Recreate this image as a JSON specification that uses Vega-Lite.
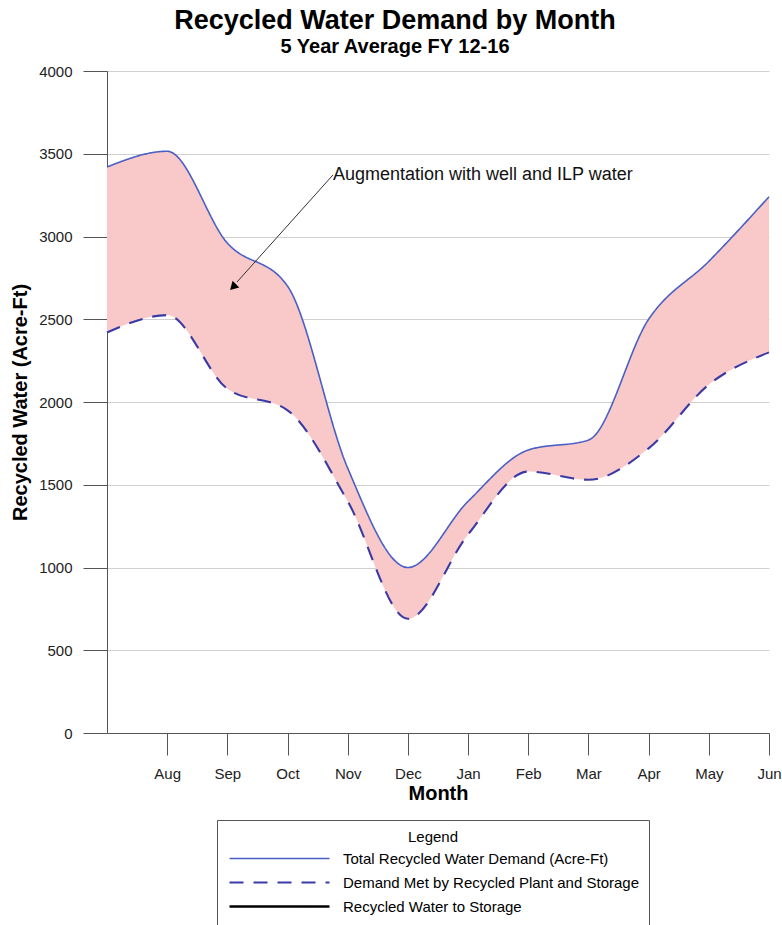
{
  "$schema": "https://vega.github.io/schema/vega-lite/v6.json",
  "autosize": "none",
  "width": 662,
  "height": 662,
  "padding": {"left": 107, "top": 71, "right": 13, "bottom": 192},
  "background": "white",
  "config": {
    "font": "Liberation Sans",
    "view": {"stroke": null},
    "axis": {"labelFont": "Liberation Sans", "titleFont": "Liberation Sans", "labelColor": "#222", "titleColor": "#000", "domainColor": "#555", "tickColor": "#555"}
  },
  "title": {
    "text": "Recycled Water Demand by Month",
    "subtitle": "5 Year Average FY 12-16",
    "font": "Liberation Sans",
    "fontSize": 27,
    "fontWeight": "bold",
    "color": "#000",
    "subtitleFont": "Liberation Sans",
    "subtitleFontSize": 20,
    "subtitleFontWeight": "bold",
    "subtitleColor": "#000",
    "subtitlePadding": 2,
    "anchor": "middle",
    "dx": -43,
    "offset": 6
  },
  "datasets": {
    "monthly": [
      {"month": "Jul", "m": 0, "total": 3420, "met": 2420},
      {"month": "Aug", "m": 1, "total": 3515, "met": 2525},
      {"month": "Sep", "m": 2, "total": 2960, "met": 2080},
      {"month": "Oct", "m": 3, "total": 2700, "met": 1950},
      {"month": "Nov", "m": 4, "total": 1600, "met": 1400},
      {"month": "Dec", "m": 5, "total": 1000, "met": 690},
      {"month": "Jan", "m": 6, "total": 1400, "met": 1200},
      {"month": "Feb", "m": 7, "total": 1710, "met": 1580},
      {"month": "Mar", "m": 8, "total": 1770, "met": 1530},
      {"month": "Apr", "m": 9, "total": 2500, "met": 1720},
      {"month": "May", "m": 10, "total": 2850, "met": 2105},
      {"month": "Jun", "m": 11, "total": 3240, "met": 2300}
    ],
    "note": [
      {"x": 3.755, "y": 3372, "label": "Augmentation with well and ILP water", "x2": 2.16, "y2": 2725, "hx": 2.11, "hy": 2700}
    ]
  },
  "layer": [
    {
      "data": {"name": "monthly"},
      "mark": {"type": "area", "interpolate": "monotone", "color": "#f9c9c9", "opacity": 1},
      "encoding": {
        "x": {
          "field": "m",
          "type": "quantitative",
          "scale": {"domain": [0, 11], "nice": false, "zero": false},
          "axis": {
            "title": "Month",
            "titleFontSize": 20,
            "titleFontWeight": "bold",
            "titlePadding": 2,
            "values": [1, 2, 3, 4, 5, 6, 7, 8, 9, 10, 11],
            "labelExpr": "['Jul','Aug','Sep','Oct','Nov','Dec','Jan','Feb','Mar','Apr','May','Jun'][datum.value]",
            "labelFontSize": 15,
            "labelPadding": 11,
            "tickSize": 22,
            "grid": false,
            "labelFlush": false
          }
        },
        "y": {
          "field": "total",
          "type": "quantitative",
          "scale": {"domain": [0, 4000], "nice": false},
          "axis": {
            "title": "Recycled Water (Acre-Ft)",
            "titleFontSize": 20,
            "titleFontWeight": "bold",
            "titlePadding": 8,
            "format": "d",
            "values": [0, 500, 1000, 1500, 2000, 2500, 3000, 3500, 4000],
            "labelFontSize": 15,
            "labelPadding": 11,
            "tickSize": 24,
            "gridColor": "#d0d0d0",
            "labelFlush": false
          }
        },
        "y2": {"field": "met"}
      }
    },
    {
      "data": {"name": "monthly"},
      "transform": [{"fold": ["total", "met"], "as": ["series", "value"]}],
      "mark": {"type": "line", "interpolate": "monotone"},
      "encoding": {
        "x": {"field": "m", "type": "quantitative"},
        "y": {"field": "value", "type": "quantitative"},
        "color": {
          "field": "series",
          "type": "nominal",
          "scale": {"domain": ["total", "met", "storage"], "range": ["#4a5fc4", "#3a3aa6", "#000000"]},
          "legend": {
            "title": "Legend",
            "orient": "none",
            "legendX": 110,
            "legendY": 749,
            "direction": "vertical",
            "strokeColor": "#555",
            "fillColor": "white",
            "padding": 10,
            "titleAnchor": "middle",
            "titleFont": "Liberation Sans",
            "titleFontSize": 15,
            "titleFontWeight": "normal",
            "titleColor": "#000",
            "titlePadding": 6,
            "labelFont": "Liberation Sans",
            "labelFontSize": 15,
            "labelColor": "#000",
            "labelLimit": 400,
            "symbolType": "M-1,0H19",
            "symbolSize": 100,
            "symbolStrokeWidth": 2,
            "symbolFillColor": "transparent",
            "labelOffset": 101,
            "rowPadding": 8,
            "labelExpr": "datum.value == 'total' ? 'Total Recycled Water Demand (Acre-Ft)' : datum.value == 'met' ? 'Demand Met by Recycled Plant and Storage' : 'Recycled Water to Storage'"
          }
        },
        "strokeDash": {
          "field": "series",
          "type": "nominal",
          "scale": {"domain": ["total", "met", "storage"], "range": [[1, 0], [14, 10], [1, 0]]}
        },
        "strokeWidth": {
          "field": "series",
          "type": "nominal",
          "scale": {"domain": ["total", "met", "storage"], "range": [1.6, 2.6, 1.6]}
        }
      }
    },
    {
      "data": {"name": "note"},
      "mark": {"type": "rule", "color": "#333", "strokeWidth": 1},
      "encoding": {
        "x": {"field": "x", "type": "quantitative"},
        "y": {"field": "y", "type": "quantitative"},
        "x2": {"field": "x2"},
        "y2": {"field": "y2"}
      }
    },
    {
      "data": {"name": "note"},
      "mark": {"type": "point", "shape": "triangle", "filled": true, "color": "#000", "size": 90, "angle": 225, "opacity": 1},
      "encoding": {
        "x": {"field": "hx", "type": "quantitative"},
        "y": {"field": "hy", "type": "quantitative"}
      }
    },
    {
      "data": {"name": "note"},
      "mark": {"type": "text", "align": "left", "baseline": "middle", "fontSize": 18, "font": "Liberation Sans", "color": "#111"},
      "encoding": {
        "x": {"field": "x", "type": "quantitative"},
        "y": {"field": "y", "type": "quantitative"},
        "text": {"field": "label"}
      }
    }
  ]
}
